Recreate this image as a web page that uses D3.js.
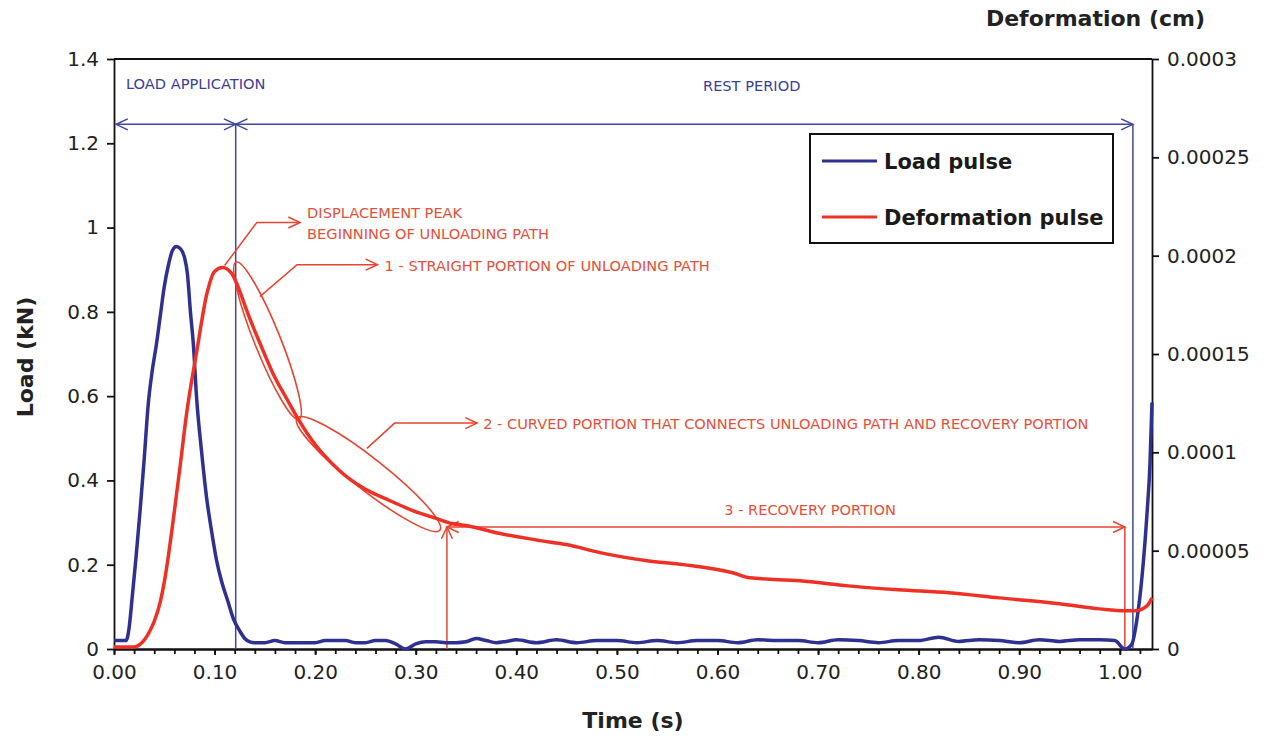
<!DOCTYPE html>
<html>
<head>
<meta charset="utf-8">
<script src="https://cdnjs.cloudflare.com/ajax/libs/d3/7.8.5/d3.min.js"></script>
<style>
  body { margin: 0; background: #fff; }
  svg text { font-family: "DejaVu Sans", Verdana, sans-serif; }
</style>
</head>
<body>
<svg id="chart" width="1265" height="737"></svg>
<script>
// Load pulse (kN) vs time (s)
var loadTime = [0, 0.012, 0.015, 0.018, 0.022, 0.026, 0.030, 0.034, 0.038, 0.042, 0.046, 0.050, 0.054, 0.058, 0.062, 0.066, 0.070, 0.073, 0.076, 0.079, 0.082, 0.087, 0.092, 0.097, 0.102, 0.107, 0.113, 0.119, 0.125, 0.130, 0.135,
  0.14, 0.15, 0.16, 0.17, 0.18, 0.19, 0.20, 0.21, 0.22, 0.23, 0.24, 0.25, 0.26, 0.27, 0.28, 0.29, 0.30, 0.31, 0.32, 0.33, 0.34, 0.35, 0.36, 0.37, 0.38, 0.39,
  0.40, 0.42, 0.44, 0.46, 0.48, 0.50, 0.52, 0.54, 0.56, 0.58, 0.60, 0.62, 0.64, 0.66, 0.68, 0.70, 0.72, 0.74, 0.76, 0.78, 0.80, 0.82, 0.84, 0.86, 0.88, 0.90,
  0.92, 0.94, 0.96, 0.98, 0.995, 1.005, 1.012, 1.017, 1.022, 1.027, 1.030, 1.032]
var loadValue = [0.02, 0.02, 0.05, 0.12, 0.22, 0.33, 0.45, 0.58, 0.66, 0.72, 0.79, 0.86, 0.91, 0.945, 0.955, 0.95, 0.93, 0.89, 0.80, 0.72, 0.60, 0.47, 0.36, 0.28, 0.21, 0.16, 0.115, 0.07, 0.043, 0.025, 0.017,
  0.015, 0.015, 0.02, 0.015, 0.015, 0.015, 0.015, 0.02, 0.02, 0.02, 0.015, 0.015, 0.02, 0.02, 0.012, 0.0, 0.012, 0.017, 0.017, 0.015, 0.015, 0.017, 0.025, 0.02, 0.015, 0.018,
  0.022, 0.015, 0.022, 0.015, 0.02, 0.02, 0.015, 0.02, 0.015, 0.02, 0.02, 0.015, 0.022, 0.02, 0.02, 0.015, 0.022, 0.02, 0.015, 0.02, 0.02, 0.028, 0.018, 0.022, 0.02, 0.015,
  0.022, 0.018, 0.022, 0.022, 0.02, 0.0, 0.012, 0.07, 0.17, 0.32, 0.44, 0.585]

// Deformation pulse (cm) vs time (s)
var defTime = [0, 0.020, 0.025, 0.030, 0.035, 0.040, 0.046, 0.050, 0.054, 0.058, 0.062, 0.066, 0.072, 0.0825, 0.0925, 0.100, 0.108, 0.117, 0.125, 0.132, 0.148, 0.160, 0.172, 0.183,
  0.197, 0.224, 0.247, 0.274, 0.297, 0.321, 0.336, 0.350, 0.384, 0.424, 0.450, 0.483, 0.530, 0.566, 0.615, 0.632, 0.682, 0.730, 0.780, 0.830, 0.880,
  0.940, 0.980, 1.005, 1.015, 1.027, 1.032]
var defValue = [0.000001, 0.000001, 0.000002, 0.0000045, 0.0000085, 0.000014, 0.000024, 0.000034, 0.000047, 0.000062, 0.000078, 0.000094, 0.000119, 0.000152, 0.000181, 0.000192, 0.000194, 0.000191, 0.000182, 0.000172, 0.000152, 0.000138, 0.000127, 0.000117,
  0.000106, 0.0000908, 0.0000821, 0.0000755, 0.0000704, 0.0000663, 0.0000638, 0.0000628, 0.0000587, 0.0000551, 0.0000531, 0.000049, 0.0000449, 0.0000429, 0.0000388, 0.0000362, 0.0000347, 0.0000321, 0.0000301, 0.0000286, 0.000026,
  0.000023, 0.0000204, 0.0000194, 0.0000194, 0.0000219, 0.000026]

var xTicks = d3.range(0, 52).map(function(i) { return i * 0.02; })
var loadTicks = [0, 0.2, 0.4, 0.6, 0.8, 1, 1.2, 1.4]
var defTicks = [0, 0.00005, 0.0001, 0.00015, 0.0002, 0.00025, 0.0003]

var blue = "#2e3192", red = "#ee3124"
var annBlue = "#3f48a0", annRed = "#e9432f"

var margin = {left: 114, right: 1152, top: 59, bottom: 649}

var x = d3.scaleLinear().domain([0, 1.032]).range([margin.left, margin.right])
var yL = d3.scaleLinear().domain([0, 1.4]).range([margin.bottom, margin.top])
var yR = d3.scaleLinear().domain([0, 0.0003]).range([margin.bottom, margin.top])

var svg = d3.select("#chart")

// frame top
svg.append("line")
  .attr("x1", margin.left).attr("x2", margin.right)
  .attr("y1", margin.top).attr("y2", margin.top)
  .attr("stroke", "#111").attr("stroke-width", 1.8)

// axes
function styleAxis(g) {
  g.selectAll("path, line").attr("stroke", "#111").attr("stroke-width", 1.8)
  g.selectAll("text").attr("font-size", 20).attr("fill", "#222")
}

svg.append("g")
  .attr("transform", "translate(0," + margin.bottom + ")")
  .call(d3.axisBottom(x).tickValues(xTicks).tickSize(5).tickSizeOuter(0).tickFormat(""))
  .call(styleAxis)

svg.append("g")
  .attr("transform", "translate(0," + margin.bottom + ")")
  .call(d3.axisBottom(x).tickValues(xTicks.filter(function(d, i) { return i % 5 == 0; }))
    .tickSize(6).tickSizeOuter(0).tickPadding(10).tickFormat(d3.format(".2f")))
  .call(styleAxis)

svg.append("g")
  .attr("transform", "translate(" + margin.left + ",0)")
  .call(d3.axisLeft(yL).tickValues(loadTicks).tickSize(7).tickSizeOuter(0).tickPadding(8)
    .tickFormat(function(d) { return String(+d.toFixed(1)); }))
  .call(styleAxis)

svg.append("g")
  .attr("transform", "translate(" + margin.right + ",0)")
  .call(d3.axisRight(yR).tickValues(defTicks).tickSize(7).tickSizeOuter(0).tickPadding(8)
    .tickFormat(function(d) { return d == 0 ? "0" : d3.format(".5~f")(d); }))
  .call(styleAxis)

// axis titles
svg.append("text").attr("x", 633).attr("y", 728).attr("text-anchor", "middle")
  .attr("font-size", 22).attr("font-weight", "bold").attr("fill", "#222").text("Time (s)")
svg.append("text").attr("transform", "translate(33,357) rotate(-90)").attr("text-anchor", "middle")
  .attr("font-size", 22).attr("font-weight", "bold").attr("fill", "#222").text("Load (kN)")
svg.append("text").attr("x", 1205).attr("y", 26).attr("text-anchor", "end")
  .attr("font-size", 22).attr("font-weight", "bold").attr("fill", "#222").text("Deformation (cm)")

// annotations helpers
function chevron(g, px, py, angle, color) {
  var a = angle * Math.PI / 180, s = 25 * Math.PI / 180, L = 13
  var p1 = [px - L * Math.cos(a - s), py - L * Math.sin(a - s)]
  var p2 = [px - L * Math.cos(a + s), py - L * Math.sin(a + s)]
  g.append("path")
    .attr("d", "M" + p1 + "L" + [px, py] + "L" + p2)
    .attr("fill", "none").attr("stroke", color).attr("stroke-width", 1.5)
}
function polyline(g, pts, color) {
  g.append("path")
    .attr("d", d3.line()(pts))
    .attr("fill", "none").attr("stroke", color).attr("stroke-width", 1.5)
}
function ellipse(g, p1, p2, ry, color) {
  var cx = (p1[0] + p2[0]) / 2, cy = (p1[1] + p2[1]) / 2
  var rx = Math.hypot(p2[0] - p1[0], p2[1] - p1[1]) / 2
  var ang = Math.atan2(p2[1] - p1[1], p2[0] - p1[0]) * 180 / Math.PI
  g.append("ellipse")
    .attr("cx", cx).attr("cy", cy).attr("rx", rx).attr("ry", ry)
    .attr("transform", "rotate(" + ang + "," + cx + "," + cy + ")")
    .attr("fill", "none").attr("stroke", color).attr("stroke-width", 1.6)
}
function pt(t, load) { return [x(t), yL(load)]; }

var ann = svg.append("g")

// blue: load application / rest period
var tEnd = 0.121, tRest = 1.013, lvl = 1.245
polyline(ann, [pt(0.002, lvl), pt(tRest, lvl)], annBlue)
polyline(ann, [pt(tEnd, lvl), pt(tEnd, 0)], annBlue)
polyline(ann, [pt(tRest, lvl), pt(tRest, 0)], annBlue)
chevron(ann, x(0.002), yL(lvl), 180, annBlue)
chevron(ann, x(tEnd), yL(lvl), 0, annBlue)
chevron(ann, x(tEnd), yL(lvl), 180, annBlue)
chevron(ann, x(tRest), yL(lvl), 0, annBlue)
ann.append("text").attr("x", 126).attr("y", 89).attr("font-size", 14.6).attr("fill", "#39409a").text("LOAD APPLICATION")
ann.append("text").attr("x", 703).attr("y", 91).attr("font-size", 14.6).attr("fill", "#39409a").text("REST PERIOD")

// data lines
svg.append("path")
  .datum(loadTime.map(function(t, i) { return [t, loadValue[i]]; }))
  .attr("d", d3.line().x(function(d) { return x(d[0]); }).y(function(d) { return yL(d[1]); }).curve(d3.curveMonotoneX))
  .attr("fill", "none").attr("stroke", blue).attr("stroke-width", 3.5).attr("stroke-linejoin", "round")

svg.append("path")
  .datum(defTime.map(function(t, i) { return [t, defValue[i]]; }))
  .attr("d", d3.line().x(function(d) { return x(d[0]); }).y(function(d) { return yR(d[1]); }).curve(d3.curveMonotoneX))
  .attr("fill", "none").attr("stroke", red).attr("stroke-width", 3.5).attr("stroke-linejoin", "round")

// red annotations
var txtRed = "#e5503a"
polyline(ann, [pt(0.110, 0.91), pt(0.142, 1.012), pt(0.185, 1.012)], annRed)
chevron(ann, x(0.185), yL(1.012), 0, annRed)
ann.append("text").attr("x", x(0.192)).attr("y", 218).attr("font-size", 14.6).attr("fill", txtRed).text("DISPLACEMENT PEAK")
ann.append("text").attr("x", x(0.192)).attr("y", 239).attr("font-size", 14.6).attr("fill", txtRed).text("BEGINNING OF UNLOADING PATH")

polyline(ann, [pt(0.145, 0.836), pt(0.182, 0.912), pt(0.262, 0.912)], annRed)
chevron(ann, x(0.262), yL(0.912), 0, annRed)
ann.append("text").attr("x", x(0.269)).attr("y", 271).attr("font-size", 14.6).attr("fill", txtRed).text("1 - STRAIGHT PORTION OF UNLOADING PATH")

polyline(ann, [pt(0.2515, 0.476), pt(0.279, 0.536), pt(0.361, 0.536)], annRed)
chevron(ann, x(0.361), yL(0.536), 0, annRed)
ann.append("text").attr("x", x(0.367)).attr("y", 429).attr("font-size", 14.6).attr("fill", txtRed).text("2 - CURVED PORTION THAT CONNECTS UNLOADING PATH AND RECOVERY PORTION")

ellipse(ann, pt(0.1213, 0.918), pt(0.184, 0.545), 13, annRed)
ellipse(ann, pt(0.182, 0.548), pt(0.324, 0.282), 16, annRed)

var rLvl = 0.2895, rStart = 0.331, rEnd = 1.005
polyline(ann, [pt(rStart, rLvl), pt(rEnd, rLvl)], annRed)
polyline(ann, [pt(rStart, rLvl), pt(rStart, 0)], annRed)
polyline(ann, [pt(rEnd, rLvl), pt(rEnd, 0)], annRed)
chevron(ann, x(rStart), yL(rLvl), -90, annRed)
chevron(ann, x(rStart), yL(rLvl), 180, annRed)
chevron(ann, x(rEnd), yL(rLvl), 0, annRed)
ann.append("text").attr("x", x(0.692)).attr("y", 515).attr("text-anchor", "middle").attr("font-size", 14.6).attr("fill", txtRed).text("3 - RECOVERY PORTION")

// legend
var legend = svg.append("g")
legend.append("rect").attr("x", 810).attr("y", 134).attr("width", 303).attr("height", 109)
  .attr("fill", "#fff").attr("stroke", "#111").attr("stroke-width", 2)
var legendItems = [{label: "Load pulse", color: blue}, {label: "Deformation pulse", color: red}]
legendItems.forEach(function(d, i) {
  var yy = 161 + i * 56
  legend.append("line").attr("x1", 822).attr("x2", 877).attr("y1", yy).attr("y2", yy)
    .attr("stroke", d.color).attr("stroke-width", 3)
  legend.append("text").attr("x", 884).attr("y", yy + 8).attr("font-size", 21).attr("font-weight", "bold")
    .attr("fill", "#1a1a1a").text(d.label)
})
</script>
</body>
</html>
